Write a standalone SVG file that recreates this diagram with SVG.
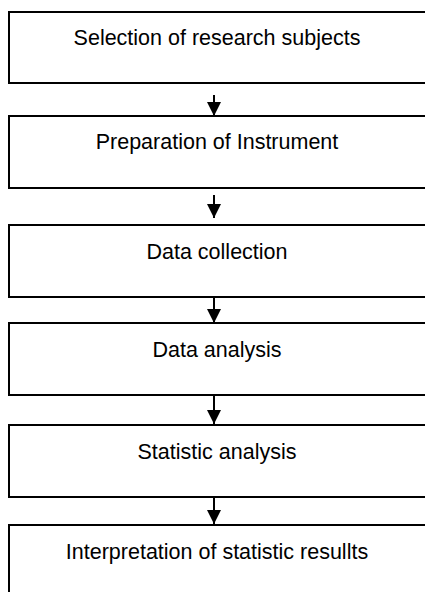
<svg xmlns="http://www.w3.org/2000/svg" width="425" height="592" viewBox="0 0 425 592">
<style>
.box{fill:#fff;stroke:#000;stroke-width:2}
.lbl{font-family:"Liberation Sans",Arial,sans-serif;font-size:21.5px;fill:#000;text-anchor:middle}
.con{stroke:#000;stroke-width:2;fill:none}
</style>
<defs>
<marker id="ah" markerWidth="7" markerHeight="7" refX="7" refY="3.5" orient="auto" markerUnits="strokeWidth">
<path d="M0,0 L7,3.5 L0,7 Z" fill="#000"/>
</marker>
</defs>
<rect width="425" height="592" fill="#fff"/>
<g id="n1"><rect class="box" x="9" y="12" width="440" height="71"/><text class="lbl" x="217" y="45">Selection of research subjects</text></g>
<g id="n2"><rect class="box" x="9" y="116" width="440" height="72"/><text class="lbl" x="217" y="149">Preparation of Instrument</text></g>
<g id="n3"><rect class="box" x="9" y="225" width="440" height="72"/><text class="lbl" x="217" y="259">Data collection</text></g>
<g id="n4"><rect class="box" x="9" y="323" width="440" height="72"/><text class="lbl" x="217" y="357">Data analysis</text></g>
<g id="n5"><rect class="box" x="9" y="425" width="440" height="72"/><text class="lbl" x="217" y="459">Statistic analysis</text></g>
<g id="n6"><rect class="box" x="9" y="525" width="440" height="80"/><text class="lbl" x="217" y="559">Interpretation of statistic resullts</text></g>
<g id="connectors">
<line class="con" x1="214" y1="95" x2="214" y2="116" marker-end="url(#ah)"/>
<line class="con" x1="214" y1="195" x2="214" y2="218" marker-end="url(#ah)"/>
<line class="con" x1="214" y1="297" x2="214" y2="323" marker-end="url(#ah)"/>
<line class="con" x1="214" y1="395" x2="214" y2="424" marker-end="url(#ah)"/>
<line class="con" x1="214" y1="497" x2="214" y2="524" marker-end="url(#ah)"/>
</g>
</svg>
